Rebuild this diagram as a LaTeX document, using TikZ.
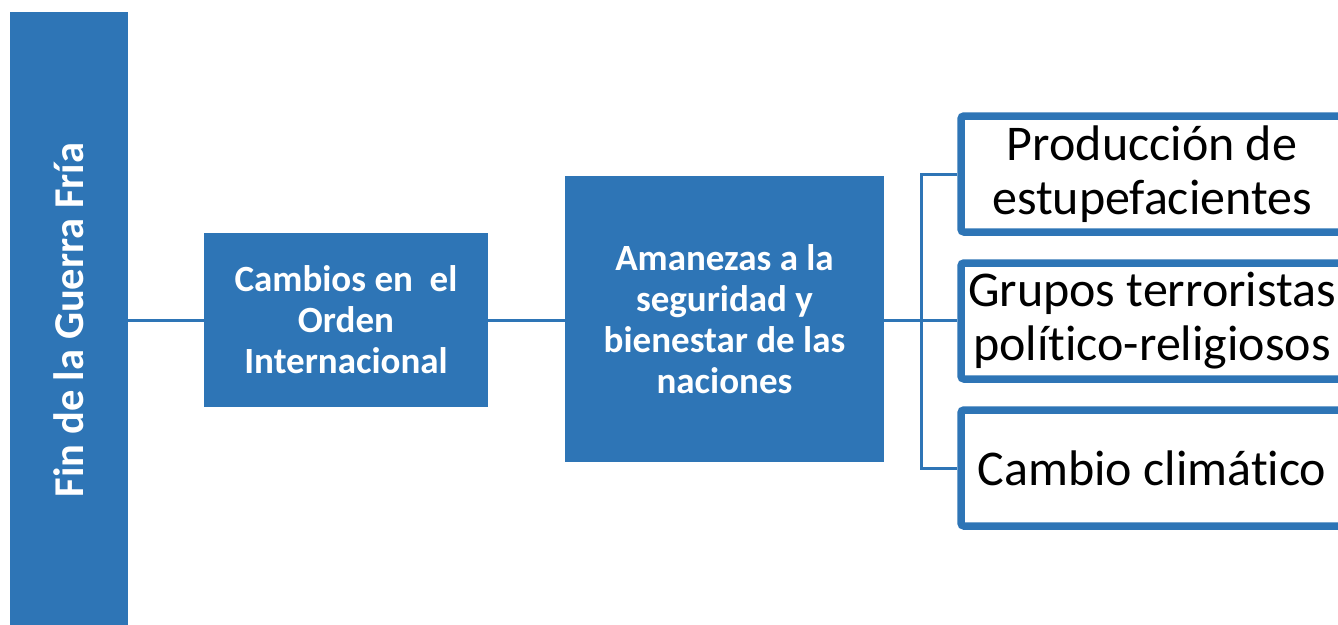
\documentclass[tikz,border=0pt]{standalone}
\usepackage{fontspec}
\setmainfont{Carlito}[Ligatures=NoCommon]
\definecolor{pblue}{RGB}{46,117,182}
\tikzset{
  bluebox/.style={fill=pblue, draw=none, text=white, font=\bfseries\fontsize{37}{41}\selectfont, align=center, inner sep=0pt},
  whitebox/.style={fill=white, draw=pblue, line width=7.5pt, rounded corners=3pt, text=black, font=\fontsize{50}{54}\selectfont, align=center, inner sep=0pt},
  conn/.style={draw=pblue, line width=3pt}
}
\begin{document}
\begin{tikzpicture}[x=1pt,y=-1pt]
\useasboundingbox (0,0) rectangle (1338,624);
\clip (0,0) rectangle (1338,624);
\node[bluebox, minimum width=118pt, minimum height=620pt] (bar) at (69,322) {};
\node[text=white, font=\bfseries\fontsize{42.5}{46}\selectfont, rotate=90] (bartext) at (69,320) {Fin de la Guerra Fría};
\node[bluebox, minimum width=284pt, minimum height=174pt] (b2) at (346,320) {Cambios en\ \ el\\Orden\\Internacional};
\node[bluebox, minimum width=319pt, minimum height=286pt] (b3) at (724.5,319) {Amanezas a la\\seguridad y\\bienestar de las\\naciones};
\node[whitebox, minimum width=382pt, minimum height=116pt] (r1) at (1152,174) {Producción de\\estupefacientes};
\node[whitebox, minimum width=382pt, minimum height=116pt] (r2) at (1152,321) {Grupos terroristas\\político-religiosos};
\node[whitebox, minimum width=382pt, minimum height=116pt] (r3) at (1152,468) {Cambio climático};
\coordinate (j) at (921,320);
\draw[conn] (bar.east |- b2.west) -- (b2.west);
\draw[conn] (b2.east) -- (b3.west |- b2.east);
\draw[conn] (b3.east |- j) -- (j);
\draw[conn] (r1.west) -| (j) |- (r3.west);
\draw[conn] (j) -- (j -| r2.west);
\end{tikzpicture}
\end{document}
